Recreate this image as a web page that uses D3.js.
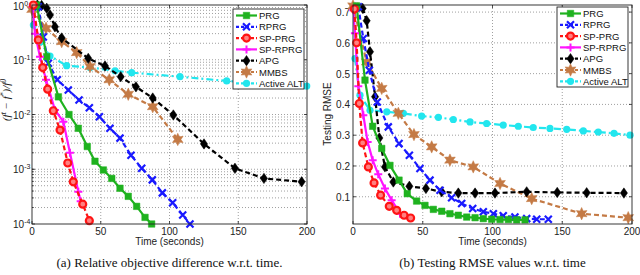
<!DOCTYPE html>
<html>
<head>
<meta charset="utf-8">
<script src="https://cdn.jsdelivr.net/npm/d3@7"></script>
<style>
  body { margin: 0; background: #fff; }
  text { font-family: "Liberation Sans", Arial, sans-serif; }
</style>
</head>
<body>
<div id="chart"></div>
<script>
// series names and styles
var names = ["PRG", "RPRG", "SP-PRG", "SP-RPRG", "APG", "MMBS", "Active ALT"]
var colors = ["#1fb21f", "#1a1aff", "#ff1414", "#ff14ff", "#000000", "#c47a45", "#22e6ee"]
var dashes = [null, "5,3", "5,3", null, "5,3", "5,3", "7,3,2,3"]
var markers = ["square", "times", "circle", "plus", "diamond", "star", "dot"]

// (a) relative objective difference, [time, value]
var objPRG = [[3.4,1.0],[10.7,0.114],[19.2,0.021],[26.9,0.010],[33.7,0.0056],[40.2,0.0026],[45.8,0.0014],[51.9,0.00097],[58,0.00068],[64,0.00045],[70,0.00032],[76.1,0.00021],[82.2,0.000132],[87,0.0001]]
var objRPRG = [[4.6,0.93],[8.2,0.26],[11.9,0.086],[18.4,0.043],[26.4,0.028],[34.2,0.0184],[41.7,0.0133],[49,0.0091],[56.7,0.0056],[64,0.0037],[72,0.0018],[79.8,0.00104],[87.5,0.00064],[94.8,0.00037],[102.3,0.000245],[109.6,0.000146],[114.9,0.0001]]
var objSPPRG = [[1,1.0],[4.6,0.23],[7.8,0.072],[11.4,0.029],[15.5,0.0117],[20.4,0.0052],[26,0.0013],[30,0.00059],[36.9,0.00023],[41.7,0.000115]]
var objSPRPRG = [[0.5,0.93],[2.2,0.30],[5.8,0.114],[10.2,0.043],[16.7,0.0121],[22.8,0.0074],[27.6,0.002],[33.7,0.00039],[35.4,0.00026]]
var objAPG = [[3.9,1.0],[7,0.98],[10.7,0.87],[13.1,0.66],[16.7,0.40],[21.6,0.25],[40.9,0.106],[53.1,0.077],[64.5,0.049],[75.6,0.032],[87.8,0.020],[102.8,0.0098],[125.1,0.0029],[147.6,0.00104],[168.7,0.00068],[196.1,0.00059]]
var objMMBS = [[0,0.83],[10.2,0.375],[21.6,0.214],[32.5,0.135],[42.2,0.075],[56.2,0.043],[70,0.0234],[87.8,0.0139],[106,0.0035]]
var objALT = [[1,0.43],[5.8,0.21],[13.1,0.117],[25.2,0.078],[42.2,0.072],[60.4,0.063],[72.5,0.058],[107.6,0.049],[141.6,0.041],[199.8,0.033]]

// (b) testing RMSE, [time, value]
var rmsePRG = [[2.6,0.72],[8.6,0.479],[14.1,0.329],[20.6,0.257],[26.5,0.202],[33,0.154],[38.9,0.110],[45.6,0.086],[51.6,0.072],[57.6,0.059],[63.6,0.053],[69.5,0.045],[75.5,0.040],[81.5,0.034],[87.5,0.032],[93.4,0.029],[99.4,0.027],[105.4,0.026],[111.4,0.026],[117.3,0.025],[123.3,0.025]]
var rmseRPRG = [[3.8,0.717],[7.4,0.614],[11.7,0.511],[17.4,0.408],[25.3,0.327],[33,0.273],[40.4,0.235],[48,0.192],[55.2,0.154],[62.4,0.121],[70.7,0.097],[77.9,0.078],[85.8,0.062],[93.4,0.051],[100.6,0.045],[107.7,0.038],[116.1,0.034],[124.5,0.029],[131.7,0.027],[140,0.027]]
var rmseSPPRG = [[1,0.71],[2.6,0.600],[4.5,0.403],[6.9,0.275],[11,0.197],[15.1,0.145],[19.8,0.105],[26,0.069],[31.3,0.056],[36.6,0.040],[41.3,0.031]]
var rmseSPRPRG = [[0.2,0.706],[1.4,0.631],[3.8,0.459],[7.4,0.365],[10.5,0.278],[14.1,0.219],[18.1,0.173],[22.9,0.127],[27.7,0.089],[33.7,0.045]]
var rmseAPG = [[6.9,0.712],[9.8,0.672],[12.2,0.571],[15.8,0.425],[18.9,0.291],[22.9,0.197],[28.9,0.148],[40.4,0.134],[52.3,0.127],[63.6,0.116],[75.5,0.112],[87.5,0.112],[101.8,0.112],[124.5,0.116],[146.4,0.114],[167.5,0.113],[194.2,0.112]]
var rmseMMBS = [[0,0.72],[9.8,0.538],[20.6,0.452],[32.5,0.371],[43.7,0.302],[56.4,0.262],[69.5,0.219],[86.2,0.197],[105.4,0.143],[128.1,0.094],[163.9,0.045],[197.3,0.032]]
var rmseALT = [[1.4,0.549],[5,0.430],[12.2,0.381],[24.2,0.376],[36.1,0.371],[49.2,0.362],[61.2,0.358],[71.9,0.351],[83.9,0.343],[95.8,0.338],[107.7,0.333],[118.5,0.329],[129.2,0.325],[141.2,0.322],[153.2,0.319],[165.1,0.314],[175.8,0.310],[187.1,0.306],[198.6,0.300]]

var xTicks = [0, 50, 100, 150, 200]
var logTicks = [1e-4, 1e-3, 1e-2, 1e-1, 1]
var rmseTicks = [0.1, 0.2, 0.3, 0.4, 0.5, 0.6, 0.7]

var objSeries = [objPRG, objRPRG, objSPPRG, objSPRPRG, objAPG, objMMBS, objALT]
var rmseSeries = [rmsePRG, rmseRPRG, rmseSPPRG, rmseSPRPRG, rmseAPG, rmseMMBS, rmseALT]

var svg = d3.select("#chart").append("svg")
    .attr("width", 640)
    .attr("height", 275)

// marker path around 0,0
function markerPath(type, s) {
  var p = d3.path()
  if (type == "square") { p.rect(-s/2, -s/2, s, s) }
  else if (type == "diamond") { p.moveTo(0,-s*0.65); p.lineTo(s*0.45,0); p.lineTo(0,s*0.65); p.lineTo(-s*0.45,0); p.closePath() }
  else if (type == "star") {
    var ro = s*0.62, ri = s*0.32
    for (var i = 0; i < 12; i++) {
      var a = Math.PI*i/6 - Math.PI/2, r = i % 2 ? ri : ro
      if (i == 0) p.moveTo(r*Math.cos(a), r*Math.sin(a)); else p.lineTo(r*Math.cos(a), r*Math.sin(a))
    }
    p.closePath()
  }
  return p.toString()
}

function drawMarker(g, type, color, x, y) {
  if (type == "times") {
    g.append("path").attr("d", "M"+(x-3.5)+","+(y-3.5)+"L"+(x+3.5)+","+(y+3.5)+"M"+(x-3.5)+","+(y+3.5)+"L"+(x+3.5)+","+(y-3.5))
      .attr("stroke", color).attr("stroke-width", 2.2).attr("fill", "none")
  } else if (type == "plus") {
    g.append("path").attr("d", "M"+(x-4)+","+y+"L"+(x+4)+","+y+"M"+x+","+(y-4)+"L"+x+","+(y+4))
      .attr("stroke", color).attr("stroke-width", 2).attr("fill", "none")
  } else if (type == "circle") {
    g.append("circle").attr("cx", x).attr("cy", y).attr("r", 3.5)
      .attr("stroke", color).attr("stroke-width", 2.2).attr("fill", "#ff8080")
  } else if (type == "dot") {
    g.append("circle").attr("cx", x).attr("cy", y).attr("r", 3.6).attr("fill", color)
  } else {
    var s = type == "square" ? 6.5 : (type == "star" ? 10 : 8)
    g.append("path").attr("d", markerPath(type, s)).attr("transform", "translate("+x+","+y+")")
      .attr("fill", color).attr("stroke", color).attr("stroke-width", 0.5)
  }
}

function expLabel(sel, e) {
  sel.append("tspan").text("10")
  sel.append("tspan").attr("dy", -4).style("font-size", "7px").text(e)
}

function panel(opt) {
  var g = svg.append("g")
  var x = d3.scaleLinear().domain([0, 200]).range([opt.left, opt.right])
  var y = opt.log ? d3.scaleLog().domain([1e-4, 1]).range([opt.bottom, opt.top])
                  : d3.scaleLinear().domain([0.0115, 0.723]).range([opt.bottom, opt.top])

  // grid
  var grid = g.append("g").attr("stroke", "#777").attr("stroke-width", 0.7).attr("stroke-dasharray", "1,2")
  xTicks.slice(1, -1).forEach(function(t) {
    grid.append("line").attr("x1", x(t)).attr("x2", x(t)).attr("y1", opt.top).attr("y2", opt.bottom)
  })
  var hLines = []
  if (opt.log) {
    for (var e = -4; e < 0; e++) for (var m = 1; m < 10; m++) hLines.push(m * Math.pow(10, e))
    hLines = hLines.slice(1)
  } else hLines = rmseTicks
  hLines.forEach(function(t) {
    grid.append("line").attr("x1", opt.left).attr("x2", opt.right).attr("y1", y(t)).attr("y2", y(t))
  })

  // ticks
  var tk = g.append("g").attr("stroke", "#222").attr("stroke-width", 0.8)
  xTicks.forEach(function(t) {
    tk.append("line").attr("x1", x(t)).attr("x2", x(t)).attr("y1", opt.bottom).attr("y2", opt.bottom - 3)
    tk.append("line").attr("x1", x(t)).attr("x2", x(t)).attr("y1", opt.top).attr("y2", opt.top + 3)
  })
  var yt = opt.log ? logTicks : rmseTicks
  yt.forEach(function(t) {
    tk.append("line").attr("x1", opt.left).attr("x2", opt.left + 3).attr("y1", y(t)).attr("y2", y(t))
    tk.append("line").attr("x1", opt.right).attr("x2", opt.right - 3).attr("y1", y(t)).attr("y2", y(t))
  })
  if (opt.log) hLines.forEach(function(t) {
    tk.append("line").attr("x1", opt.left).attr("x2", opt.left + 1.8).attr("y1", y(t)).attr("y2", y(t))
  })

  // tick labels
  xTicks.forEach(function(t) {
    g.append("text").attr("x", x(t)).attr("y", opt.bottom + 11).attr("text-anchor", "middle")
      .style("font-size", "10px").attr("fill", "#222").text(t)
  })
  yt.forEach(function(t, i) {
    var tx = g.append("text").attr("y", y(t) + 4).style("font-size", "10px").attr("fill", "#222")
    if (opt.log) {
      tx.attr("x", opt.left - 19).attr("text-anchor", "start").attr("y", Math.max(y(t) + 4, 10))
      expLabel(tx, i - 4)
    } else tx.attr("x", opt.left - 3).attr("text-anchor", "end").text(t.toFixed(1))
  })

  // clipped lines
  var clipId = "clip" + opt.left
  svg.append("clipPath").attr("id", clipId).append("rect")
    .attr("x", opt.left).attr("y", opt.top).attr("width", opt.right - opt.left).attr("height", opt.bottom - opt.top)
  var line = d3.line().x(function(d) { return x(d[0]) }).y(function(d) { return y(d[1]) })
  var order = [6, 5, 4, 1, 0, 3, 2]
  order.forEach(function(i) {
    var data = opt.series[i]
    g.append("path").attr("d", line(data)).attr("clip-path", "url(#" + clipId + ")")
      .attr("fill", "none").attr("stroke", colors[i]).attr("stroke-width", 2.2)
      .attr("stroke-dasharray", dashes[i])
    var mg = g.append("g")
    data.forEach(function(d) {
      if (d[1] >= y.domain()[0]) drawMarker(mg, markers[i], colors[i], x(d[0]), y(d[1]))
    })
  })

  // box
  g.append("rect").attr("x", opt.left).attr("y", opt.top).attr("width", opt.right - opt.left)
    .attr("height", opt.bottom - opt.top).attr("fill", "none").attr("stroke", "#222").attr("stroke-width", 0.9)

  // legend
  var lg = g.append("g").attr("transform", "translate(" + opt.legX + "," + opt.legY + ")")
  lg.append("rect").attr("width", 71).attr("height", 80).attr("fill", "#fff").attr("stroke", "#222").attr("stroke-width", 0.9)
  names.forEach(function(n, i) {
    var ly = 6.5 + i * 11.3
    lg.append("line").attr("x1", 3).attr("x2", 24).attr("y1", ly).attr("y2", ly)
      .attr("stroke", colors[i]).attr("stroke-width", 2.2).attr("stroke-dasharray", dashes[i] ? "3,2" : null)
    drawMarker(lg, markers[i], colors[i], 13.5, ly)
    lg.append("text").attr("x", 26).attr("y", ly + 3.5).style("font-size", "9.5px").attr("fill", "#111").text(n)
  })

  // axis labels
  g.append("text").attr("x", (opt.left + opt.right) / 2).attr("y", opt.bottom + 21).attr("text-anchor", "middle")
    .style("font-size", "10px").attr("fill", "#222").text("Time (seconds)")
  g.append("text").attr("x", (opt.left + opt.right) / 2).attr("y", 267).attr("text-anchor", "middle")
    .style("font-family", "'Liberation Serif', 'Times New Roman', serif").style("font-size", "13px")
    .attr("fill", "#111").text(opt.caption)
  return g
}

panel({ left: 32, right: 307, top: 5, bottom: 224, log: true, series: objSeries,
        legX: 233, legY: 9, caption: "(a) Relative objective difference w.r.t. time." })
panel({ left: 353, right: 632, top: 5, bottom: 224, log: false, series: rmseSeries,
        legX: 557, legY: 7, caption: "(b) Testing RMSE values w.r.t. time" })

// y axis titles
var yl = svg.append("text").attr("transform", "translate(10,100) rotate(-90)").attr("text-anchor", "middle")
  .style("font-family", "'Liberation Serif', 'Times New Roman', serif").style("font-size", "11px")
  .style("font-style", "italic").attr("fill", "#222")
yl.append("tspan").text("(f")
yl.append("tspan").attr("dy", -4).style("font-size", "7.5px").text("t")
yl.append("tspan").attr("dy", 4).text(" \u2212 f")
yl.append("tspan").attr("dy", -4).style("font-size", "7.5px").text("*")
yl.append("tspan").attr("dy", 4).text(")/f")
yl.append("tspan").attr("dy", -4).style("font-size", "7.5px").text("0")

svg.append("text").attr("transform", "translate(331,114) rotate(-90)").attr("text-anchor", "middle")
  .style("font-size", "10px").attr("fill", "#222").text("Testing RMSE")
</script>
</body>
</html>
